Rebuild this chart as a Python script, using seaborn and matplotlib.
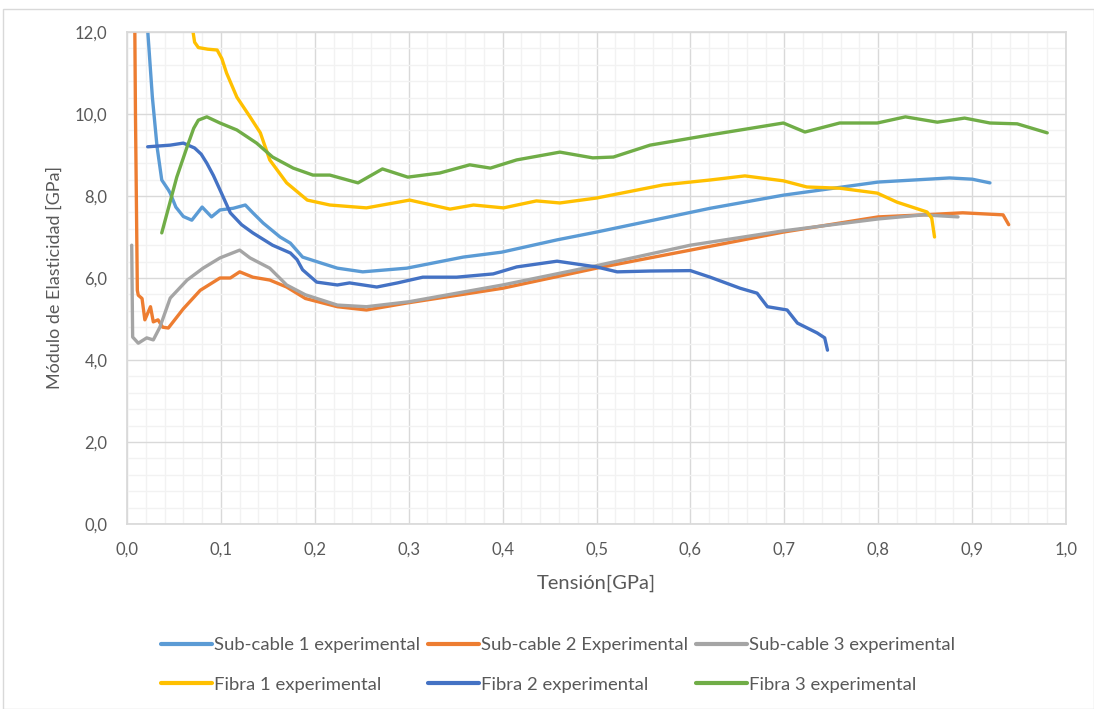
import numpy as np
import pandas as pd
import matplotlib
matplotlib.use("Agg")
import matplotlib.pyplot as plt
from matplotlib.patches import Rectangle
from matplotlib.ticker import MultipleLocator, FuncFormatter
import seaborn as sns

# Tensión [GPa] / Módulo de Elasticidad [GPa]
sub1_x = [0.020, 0.022, 0.027, 0.032, 0.037, 0.044, 0.046, 0.052, 0.060, 0.069, 0.080, 0.090, 0.099,
          0.113, 0.126, 0.134, 0.145, 0.163, 0.174, 0.187, 0.206, 0.224, 0.251, 0.298, 0.358,
          0.399, 0.458, 0.500, 0.571, 0.621, 0.699, 0.800, 0.876, 0.900, 0.919]
sub1_y = [13.0, 12.05, 10.41, 9.20, 8.39, 8.15, 8.07, 7.73, 7.50, 7.41, 7.73, 7.49, 7.66,
          7.70, 7.78, 7.59, 7.34, 7.00, 6.85, 6.51, 6.37, 6.24, 6.15, 6.24, 6.51,
          6.63, 6.93, 7.12, 7.46, 7.70, 8.02, 8.34, 8.44, 8.41, 8.32]

sub2_x = [0.008, 0.009, 0.011, 0.012, 0.016, 0.019, 0.025, 0.028, 0.033, 0.038, 0.044, 0.060, 0.078,
          0.099, 0.110, 0.120, 0.134, 0.152, 0.170, 0.190, 0.224, 0.255, 0.298, 0.400, 0.500,
          0.600, 0.699, 0.800, 0.848, 0.890, 0.933, 0.939]
sub2_y = [13.0, 10.0, 5.70, 5.58, 5.50, 4.98, 5.30, 4.93, 4.98, 4.80, 4.78, 5.25, 5.70,
          6.00, 6.00, 6.15, 6.02, 5.95, 5.78, 5.50, 5.30, 5.22, 5.39, 5.75, 6.24,
          6.68, 7.12, 7.49, 7.54, 7.59, 7.54, 7.30]

sub3_x = [0.005, 0.006, 0.012, 0.021, 0.028, 0.035, 0.046, 0.064, 0.081, 0.099, 0.120, 0.131,
          0.152, 0.170, 0.190, 0.224, 0.255, 0.300, 0.400, 0.500, 0.600, 0.699, 0.800, 0.848,
          0.885]
sub3_y = [6.80, 4.56, 4.41, 4.54, 4.49, 4.80, 5.51, 5.95, 6.24, 6.49, 6.68, 6.49,
          6.24, 5.83, 5.59, 5.34, 5.30, 5.42, 5.83, 6.30, 6.80, 7.15, 7.44, 7.54,
          7.49]

fib1_x = [0.068, 0.070, 0.072, 0.076, 0.086, 0.096, 0.101, 0.106, 0.117, 0.131, 0.142, 0.152, 0.170,
          0.192, 0.216, 0.255, 0.301, 0.344, 0.369, 0.401, 0.436, 0.461, 0.500, 0.571, 0.621,
          0.658, 0.699, 0.724, 0.759, 0.799, 0.820, 0.852, 0.857, 0.860]
fib1_y = [13.0, 12.05, 11.75, 11.62, 11.58, 11.56, 11.35, 11.00, 10.41, 9.93, 9.54, 8.88, 8.32,
          7.90, 7.78, 7.71, 7.90, 7.68, 7.78, 7.71, 7.88, 7.83, 7.95, 8.27, 8.39,
          8.49, 8.37, 8.22, 8.19, 8.07, 7.85, 7.61, 7.46, 7.00]

fib2_x = [0.022, 0.046, 0.060, 0.072, 0.079, 0.085, 0.092, 0.099, 0.110, 0.122, 0.134, 0.155, 0.174,
          0.181, 0.187, 0.202, 0.224, 0.237, 0.266, 0.288, 0.315, 0.351, 0.390, 0.415, 0.458,
          0.500, 0.522, 0.557, 0.600, 0.621, 0.653, 0.671, 0.682, 0.703, 0.714, 0.735, 0.743, 0.746]
fib2_y = [9.20, 9.24, 9.29, 9.17, 9.02, 8.80, 8.50, 8.15, 7.59, 7.30, 7.10, 6.80, 6.61,
          6.45, 6.20, 5.90, 5.83, 5.88, 5.78, 5.88, 6.02, 6.02, 6.10, 6.27, 6.41,
          6.27, 6.15, 6.17, 6.18, 6.02, 5.75, 5.63, 5.30, 5.22, 4.90, 4.66, 4.54, 4.24]

fib3_x = [0.037, 0.053, 0.064, 0.071, 0.076, 0.085, 0.099, 0.117, 0.138, 0.155, 0.177, 0.198, 0.216,
          0.246, 0.272, 0.299, 0.333, 0.365, 0.387, 0.415, 0.461, 0.496, 0.518, 0.557, 0.621,
          0.699, 0.722, 0.759, 0.799, 0.829, 0.863, 0.892, 0.919, 0.948, 0.980]
fib3_y = [7.10, 8.46, 9.20, 9.65, 9.85, 9.93, 9.78, 9.61, 9.29, 8.95, 8.68, 8.51, 8.51,
          8.32, 8.66, 8.46, 8.56, 8.76, 8.68, 8.88, 9.07, 8.93, 8.95, 9.24, 9.49,
          9.78, 9.56, 9.78, 9.78, 9.93, 9.80, 9.90, 9.78, 9.76, 9.54]

series = ["Sub-cable 1 experimental", "Sub-cable 2 Experimental", "Sub-cable 3 experimental",
          "Fibra 1 experimental", "Fibra 2 experimental", "Fibra 3 experimental"]
colors = ["#5B9BD5", "#ED7D31", "#A5A5A5", "#FFC000", "#4472C4", "#70AD47"]
xs = [sub1_x, sub2_x, sub3_x, fib1_x, fib2_x, fib3_x]
ys = [sub1_y, sub2_y, sub3_y, fib1_y, fib2_y, fib3_y]

frames = []
for name, x, y in zip(series, xs, ys):
    frames.append(pd.DataFrame({"tension": x, "modulo": y, "serie": name}))
df = pd.concat(frames, ignore_index=True)

sns.set_theme(style="white")
plt.rcParams["font.family"] = ["Lato", "DejaVu Sans"]

fig = plt.figure(figsize=(10.94, 7.09), dpi=100)
ax = fig.add_axes([0.1161, 0.2609, 0.8583, 0.694])

sns.lineplot(data=df, x="tension", y="modulo", hue="serie", hue_order=series,
             palette=colors, sort=False, estimator=None, units="serie",
             linewidth=2.4, ax=ax, legend=False)

ax.set_xlim(0, 1.0)
ax.set_ylim(0, 12)
ax.xaxis.set_major_locator(MultipleLocator(0.1))
ax.xaxis.set_minor_locator(MultipleLocator(0.02))
ax.yaxis.set_major_locator(MultipleLocator(2))
ax.yaxis.set_minor_locator(MultipleLocator(0.4))
ax.grid(which="major", color="#D9D9D9", linewidth=1.0)
ax.grid(which="minor", color="#F2F2F2", linewidth=1.0)
ax.set_axisbelow(True)
for s in ax.spines.values():
    s.set_color("#D9D9D9")
ax.xaxis.set_major_formatter(FuncFormatter(lambda v, p: f"{v:.1f}".replace(".", ",")))
ax.yaxis.set_major_formatter(FuncFormatter(lambda v, p: f"{v:.1f}".replace(".", ",")))
ax.tick_params(which="both", length=0, labelsize=12, colors="#595959")
ax.tick_params(axis="x", pad=13)
ax.tick_params(axis="y", pad=14)

ax.set_xlabel("Tensión[GPa]", fontsize=14.5, color="#595959", labelpad=12)
ax.set_ylabel("Módulo de Elasticidad [GPa]", fontsize=13, color="#595959", labelpad=9)

# leyenda: fila 1 sub-cables, fila 2 fibras
handles = [plt.Line2D([], [], color=c, linewidth=3) for c in colors]
order = [0, 3, 1, 4, 2, 5]
fig.legend([handles[i] for i in order], [series[i] for i in order], ncol=3,
           loc="center", bbox_to_anchor=(0.510, 0.062), frameon=False,
           fontsize=13.3, labelcolor="#595959", handlelength=2.8, handletextpad=0.1,
           columnspacing=0.4, labelspacing=1.25)

fig.patches.append(Rectangle((0.003, 0.0), 0.997, 0.988, transform=fig.transFigure,
                             fill=False, edgecolor="#D9D9D9", linewidth=1.0))

fig.savefig("out.png", dpi=100)
